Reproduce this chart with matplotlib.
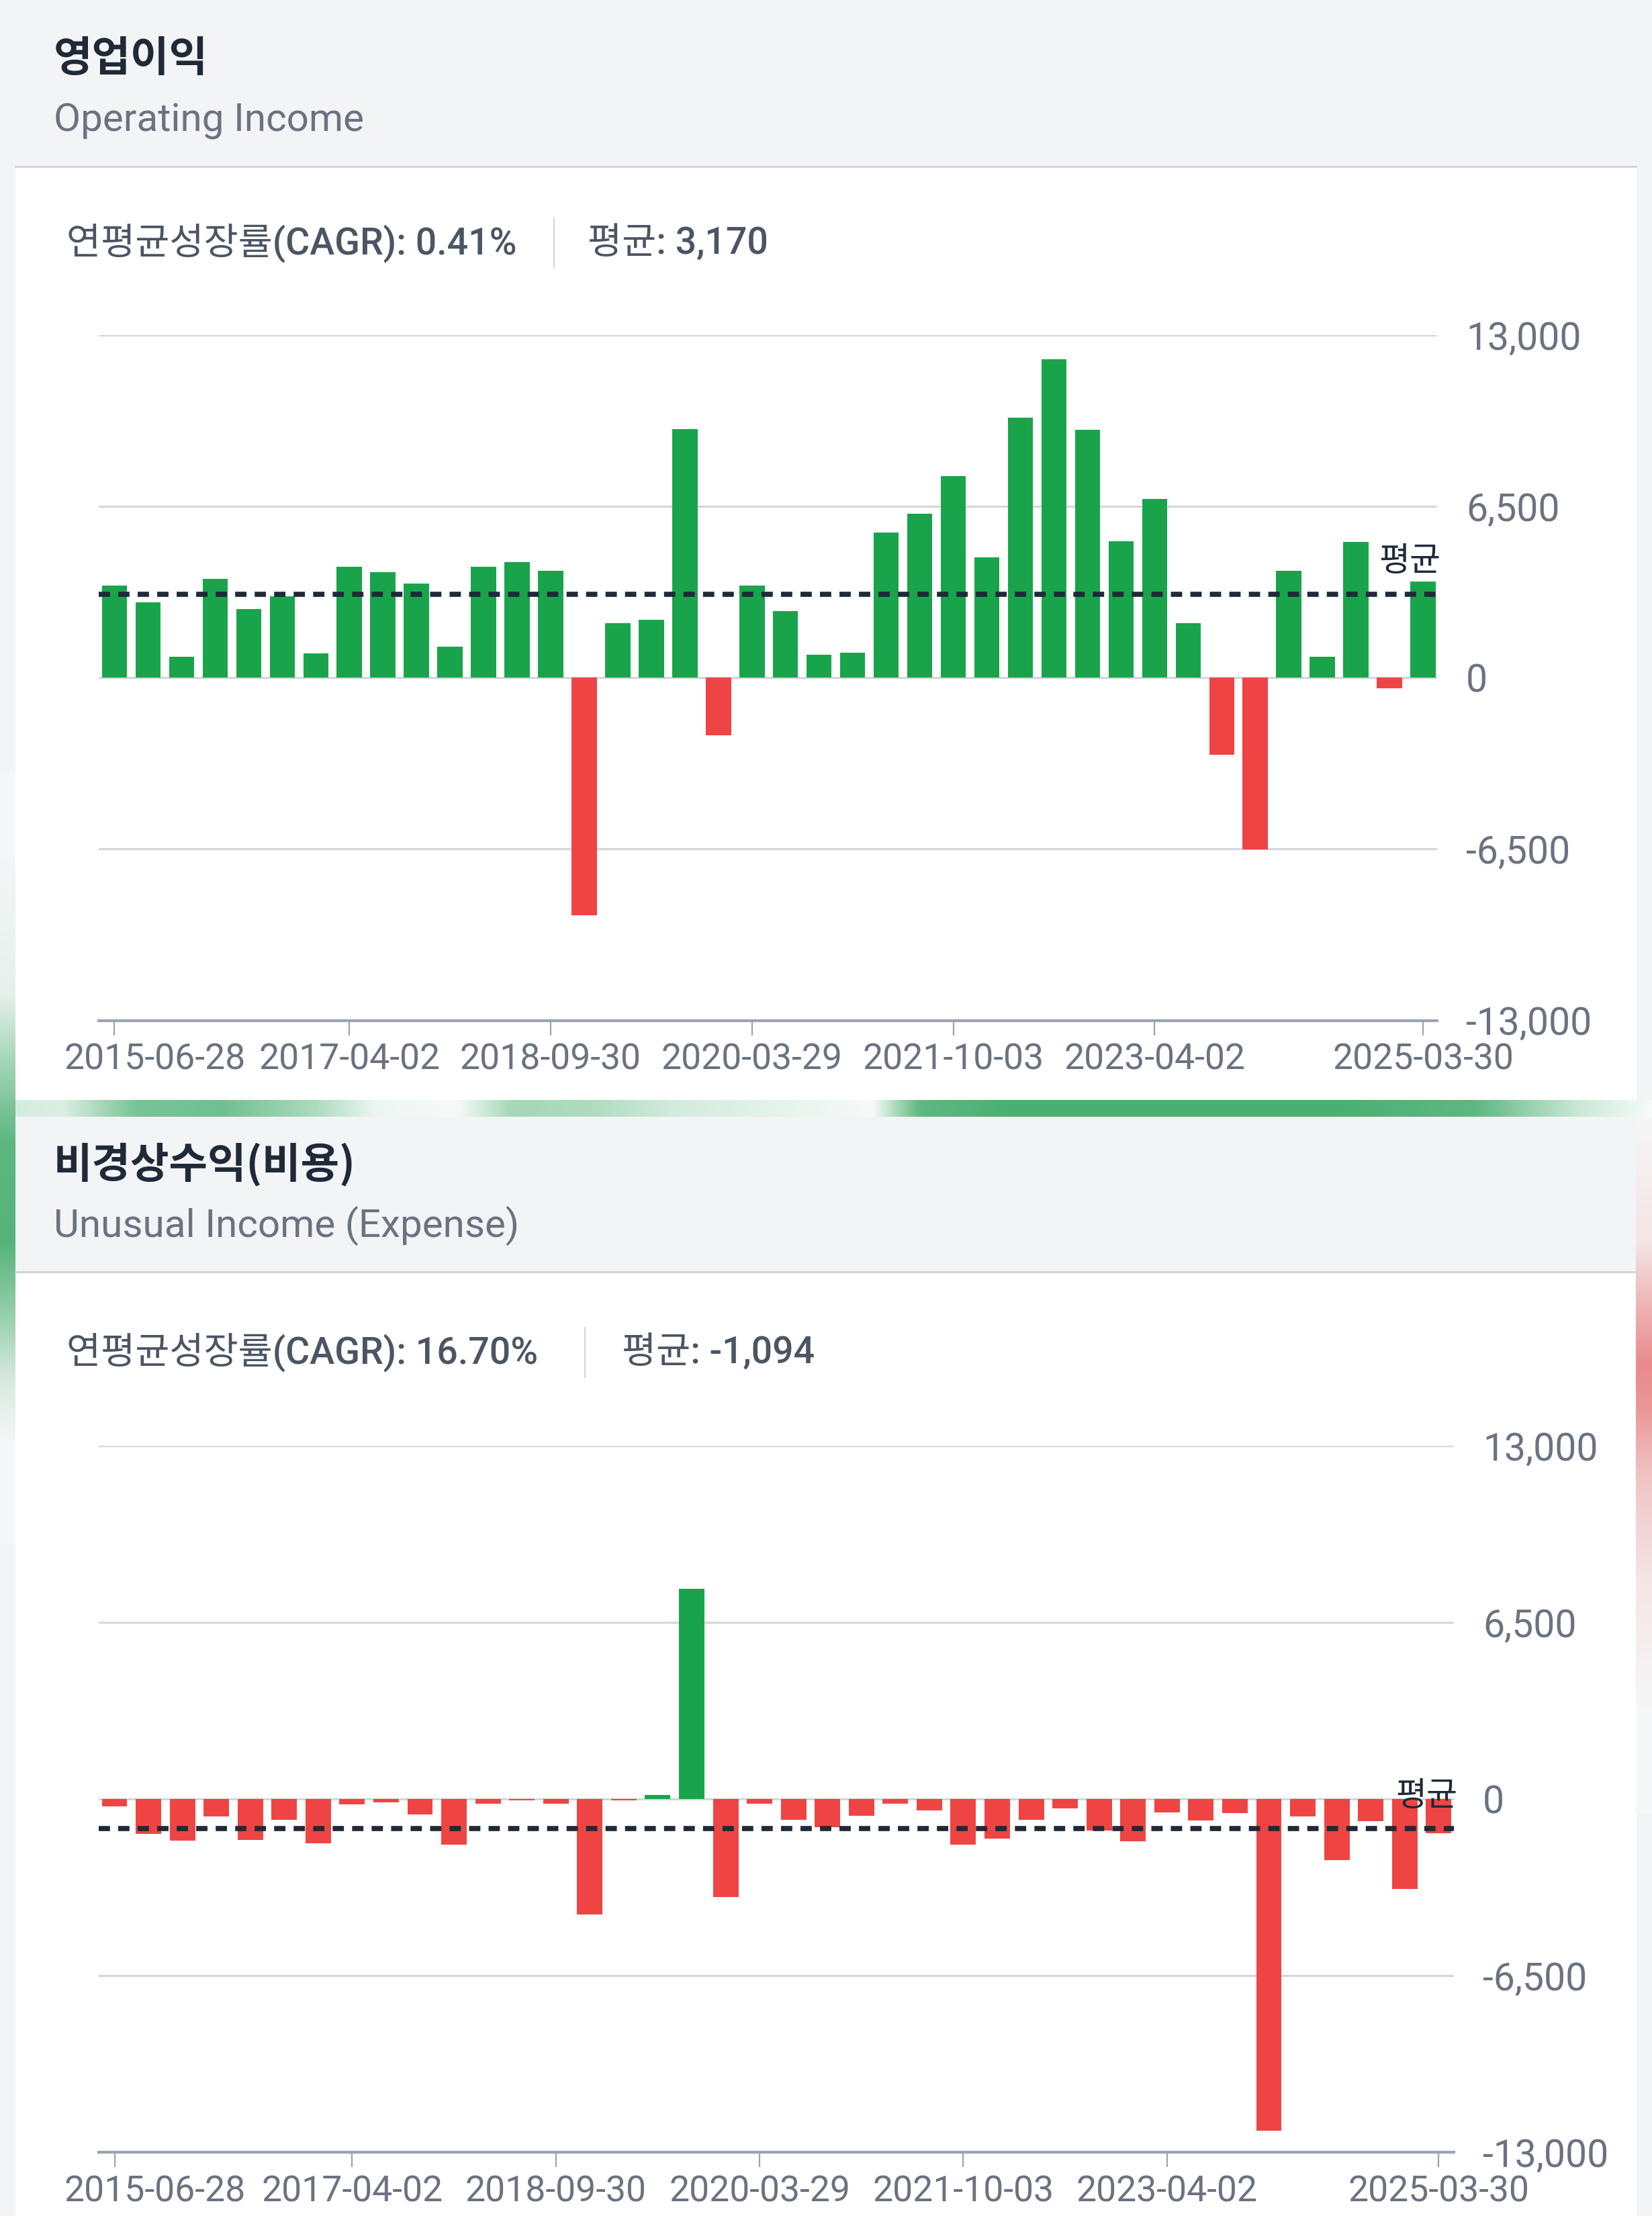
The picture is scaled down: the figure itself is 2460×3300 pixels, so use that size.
import numpy as np
import matplotlib.pyplot as plt
from matplotlib.patches import Rectangle
from matplotlib.transforms import ScaledTranslation

plt.rcParams['font.family'] = ['Roboto', 'Noto Sans CJK KR']

W, H = 2460, 3300

# ---- data (quarterly, 2015-06 .. 2025-03) ----
tick_idx = [0, 7, 13, 19, 25, 31, 39]
tick_labels = ['2015-06-28', '2017-04-02', '2018-09-30', '2020-03-29',
               '2021-10-03', '2023-04-02', '2025-03-30']
y_ticks = [-13000, -6500, 0, 6500, 13000]

operating_income = [3500, 2850, 790, 3750, 2600, 3100, 920, 4200, 4000, 3580,
                    1170, 4210, 4380, 4060, -9000, 2080, 2210, 9430, -2190, 3500,
                    2520, 860, 950, 5520, 6230, 7650, 4570, 9860, 12090, 9400,
                    5170, 6790, 2080, -2920, -6510, 4060, 790, 5150, -390, 3650]
op_cagr = '0.41%'
op_mean = 3170

unusual_income = [-265, -1290, -1530, -640, -1500, -760, -1630, -210, -130, -570,
                  -1690, -170, -60, -170, -4250, -40, 150, 7730, -3620, -170,
                  -760, -1040, -610, -170, -420, -1670, -1460, -760, -340, -1160,
                  -1560, -490, -800, -530, -12200, -640, -2260, -820, -3310, -1270]
un_cagr = '16.70%'
un_mean = -1094

GREEN = '#19a44b'
RED = '#ef4444'
DARK = '#1f2937'
GRAY = '#6b7280'
STAT = '#4b5563'
GRID = '#d4d6da'
AXIS = '#9ca3af'
HDR_BG = '#f3f4f6'
LINE = '#d1d5db'

fig = plt.figure(figsize=(W / 100, H / 100), dpi=100, facecolor=HDR_BG)

# background layer in pixel coordinates
bg = fig.add_axes([0, 0, 1, 1])
bg.set_axis_off()


def strip(profile_pos, profile_alpha, rgb, extent, vertical=True, base=(1, 1, 1)):
    n = 400
    lo, hi = (extent[3], extent[2]) if vertical else (extent[0], extent[1])
    pos = np.linspace(lo, hi, n)
    a = np.interp(pos, profile_pos, profile_alpha)[:, None]
    col = np.array(base)[None, :] * (1 - a) + np.array(rgb)[None, :] * a
    img = col[:, None, :] if vertical else col[None, :, :]
    bg.imshow(img, extent=extent, aspect='auto', interpolation='bilinear', zorder=1)


# card backgrounds
bg.add_patch(Rectangle((23, 250), 2413, 1388, color='white', zorder=0.5))
bg.add_patch(Rectangle((23, 1896), 2413, 1404, color='white', zorder=0.5))
bg.plot([23, 2436], [248, 248], color=LINE, lw=2.2, zorder=2)
bg.plot([23, 2436], [1894, 1894], color=LINE, lw=2.2, zorder=2)

# coloured glow on the edges (screenshot artefact)
green_rgb = (0.30, 0.69, 0.45)
red_rgb = (0.91, 0.47, 0.47)
strip([0, 90, 200, 330, 470, 560, 680, 760, 880, 1000, 1150, 1300, 1370, 1500, 2000, 2200, 2350, 2460],
      [0.25, 0.2, 0.75, 0.8, 0.45, 0.1, 0.05, 0.5, 0.45, 0.25, 0.15, 0.05, 0.9, 1.0, 1.0, 0.9, 0.3, 0.05],
      green_rgb, [0, 2460, 1663, 1638], vertical=False)
strip([1250, 1480, 1600, 1700, 1850, 1950, 2050, 2150],
      [0, 0.1, 0.55, 0.9, 0.95, 0.6, 0.2, 0],
      green_rgb, [0, 23, 2300, 1150], base=(0.965, 0.97, 0.975))
strip([1650, 1850, 1950, 2030, 2100, 2200, 2350, 2550],
      [0, 0.15, 0.55, 0.85, 0.75, 0.4, 0.15, 0],
      red_rgb, [2436, 2460, 2700, 1663], base=(0.965, 0.97, 0.975))

bg.set_xlim(0, W)
bg.set_ylim(H, 0)

# header + stats texts
headers = [
    (88, 181, 362, 825, 875, '영업이익', 'Operating Income', op_cagr, op_mean),
    (1734, 1825, 2014, 871, 926, '비경상수익(비용)', 'Unusual Income (Expense)', un_cagr, un_mean),
]
for ty, sy, st_y, sep_x, avg_x, title, sub, cagr, mean in headers:
    bg.text(80, ty, title, fontsize=45, weight='bold', color=DARK, va='center',
            family=['Noto Sans CJK KR'], zorder=3)
    bg.text(80, sy, sub, fontsize=42, color=GRAY, va='center', zorder=3)
    bg.text(99, st_y, f'연평균성장률(CAGR): {cagr}', fontsize=40, color=STAT,
            weight='medium', va='center', zorder=3)
    bg.plot([sep_x, sep_x], [st_y - 37, st_y + 37], color=LINE, lw=1.5, zorder=3)
    bg.text(avg_x, st_y, f'평균: {mean:,}', fontsize=40, color=STAT, weight='medium',
            va='center', zorder=3)


def draw_panel(ax, values, mean, xlim):
    x = np.arange(len(values))
    colors = [GREEN if v >= 0 else RED for v in values]
    ax.bar(x, values, width=0.75, color=colors, zorder=2)
    ax.axhline(mean, color=DARK, lw=5.5, ls=(0, (2.2, 1.6)), zorder=3)
    ax.annotate('평균', xy=(1, mean), xycoords=('axes fraction', 'data'),
                xytext=(4, 35), textcoords='offset points', ha='right', va='center',
                fontsize=36, color=DARK, weight='medium',
                family=['Noto Sans CJK KR'], zorder=4)
    ax.set_xlim(*xlim)
    ax.set_ylim(-13000, 13000)
    ax.set_facecolor('none')
    for side in ['top', 'left', 'right']:
        ax.spines[side].set_visible(False)
    ax.spines['bottom'].set_color(AXIS)
    ax.spines['bottom'].set_linewidth(3)
    ax.set_yticks(y_ticks)
    ax.set_yticklabels([f'{v:,}' for v in y_ticks])
    ax.yaxis.tick_right()
    ax.tick_params(axis='y', length=0, pad=31, labelsize=41, labelcolor=GRAY)
    ax.set_xticks(tick_idx)
    ax.set_xticklabels(tick_labels)
    ax.tick_params(axis='x', length=16, width=1.6, color=AXIS, labelsize=38.5,
                   labelcolor=GRAY, pad=8)
    # first date label is pushed right so it stays inside the card
    first = ax.get_xticklabels()[0]
    first.set_transform(first.get_transform() + ScaledTranslation(0.6, 0, fig.dpi_scale_trans))
    ax.grid(axis='y', color=GRID, lw=2.2)
    ax.set_axisbelow(True)


ax1 = fig.add_axes([147 / W, 1 - 1519.5 / H, (2140 - 147) / W, (1519.5 - 499) / H])
draw_panel(ax1, operating_income, op_mean, (-0.47, 39.42))

ax2 = fig.add_axes([147 / W, 1 - 3205 / H, (2165 - 147) / W, (3205 - 2153) / H])
draw_panel(ax2, unusual_income, un_mean, (-0.465, 39.45))

fig.savefig('out.png', dpi=100, facecolor=HDR_BG)
